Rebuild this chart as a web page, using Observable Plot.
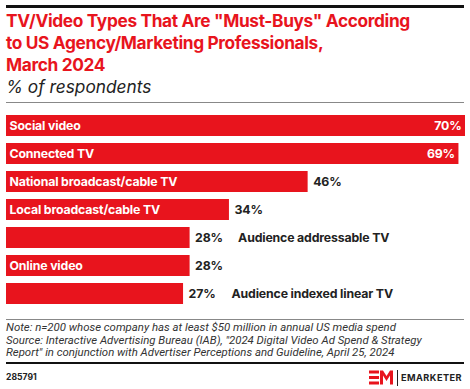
<!DOCTYPE html>
<html><head><meta charset="utf-8">
<script src="https://cdn.jsdelivr.net/npm/d3@7"></script>
<script src="https://cdn.jsdelivr.net/npm/@observablehq/plot@0.6"></script>
<style>
body{margin:0;background:#fff;font-family:Inter,"Noto Sans",sans-serif;}
#wrap{position:relative;width:470px;height:389px;overflow:hidden;background:#fff}
.abs{position:absolute}
.topline{left:6px;top:5px;width:458px;height:3px;background:#111}
.title{left:6px;top:10px;width:462px;color:#e8141d;font-weight:700;font-size:17.3px;line-height:22px;letter-spacing:-0.35px;white-space:nowrap}
.subtitle{left:6px;top:77px;font-style:italic;font-size:17.3px;line-height:20px;color:#222}
.rule{left:6px;width:458px;height:1px;background:#888}
#chart{left:0;top:104px}
.note{left:6px;top:321px;font-family:Roboto,Inter,sans-serif;font-size:11.4px;font-style:italic;line-height:12.7px;color:#333;white-space:nowrap}
.thick{left:6px;top:362px;width:458px;height:2px;background:#111}
.id{left:6px;top:372px;font-size:8.6px;font-weight:700;color:#222}
.brand{left:401px;top:372px;font-size:9.2px;font-weight:700;letter-spacing:0.45px;color:#222}
</style></head>
<body><div id="wrap">
<div class="abs topline"></div>
<div class="abs title">TV/Video Types That Are "Must-Buys" According<br>to US Agency/Marketing Professionals,<br>March 2024</div>
<div class="abs subtitle">% of respondents</div>
<div class="abs rule" style="top:102px"></div>
<div class="abs" id="chart"></div>
<div class="abs rule" style="top:319px"></div>
<div class="abs note">Note: n=200 whose company has at least $50 million in annual US media spend<br>Source: Interactive Advertising Bureau (IAB), "2024 Digital Video Ad Spend &amp; Strategy<br>Report" in conjunction with Advertiser Perceptions and Guideline, April 25, 2024</div>
<div class="abs thick"></div>
<div class="abs id">285791</div>
<svg class="abs" style="left:369px;top:370px" width="30" height="16">
<rect x="0" y="0.5" width="10" height="3" fill="#e8141d"/>
<rect x="0" y="6" width="10" height="3" fill="#e8141d"/>
<rect x="0" y="11.5" width="10" height="3" fill="#e8141d"/>
<polygon points="11,14.5 11,0.5 14,0.5 17.5,6 21,0.5 24,0.5 24,14.5 21,14.5 21,5.5 17.5,11 14,5.5 14,14.5" fill="#e8141d"/>
<line x1="28.5" y1="0" x2="28.5" y2="16" stroke="#222" stroke-width="1"/>
</svg>
<div class="abs brand">EMARKETER</div>
</div>
<script>
const categories = ["Social video","Connected TV","National broadcast/cable TV","Local broadcast/cable TV","Audience addressable TV","Online video","Audience indexed linear TV"];
const values = [70,69,46,34,28,28,27];
const outsideLabels = ["Audience addressable TV","Audience indexed linear TV"];

const data = categories.map((c,i)=>({category:c, value:values[i]}));
const isOut = d => outsideLabels.includes(d.category);
const valIn = d => d.value >= 60;
const red = "#e8141d";

const chart = Plot.plot({
  width:470, height:210,
  marginTop:6.7, marginBottom:5, marginLeft:6, marginRight:5,
  x:{domain:[0,70], axis:null},
  y:{domain:categories, axis:null, paddingInner:0.234, paddingOuter:0.117},
  style:{fontFamily:"Inter, 'Noto Sans', sans-serif", fontSize:"12.3px", fontWeight:700, letterSpacing:"-0.15px", background:"transparent"},
  marks:[
    Plot.barX(data,{y:"category", x:"value", fill:red}),
    Plot.text(data.filter(d=>!isOut(d)),{y:"category", x:0, text:"category", textAnchor:"start", dx:3, fill:"white"}),
    Plot.text(data.filter(valIn),{y:"category", x:"value", text:d=>d.value+"%", textAnchor:"end", dx:-4, fill:"white"}),
    Plot.text(data.filter(d=>!valIn(d)),{y:"category", x:"value", text:d=>d.value+"%", textAnchor:"start", dx:5, fill:"#222"}),
    Plot.text(data.filter(isOut),{y:"category", x:"value", text:"category", textAnchor:"start", dx:48, fill:"#222"})
  ]
});
document.getElementById("chart").appendChild(chart);
</script>
</body></html>
